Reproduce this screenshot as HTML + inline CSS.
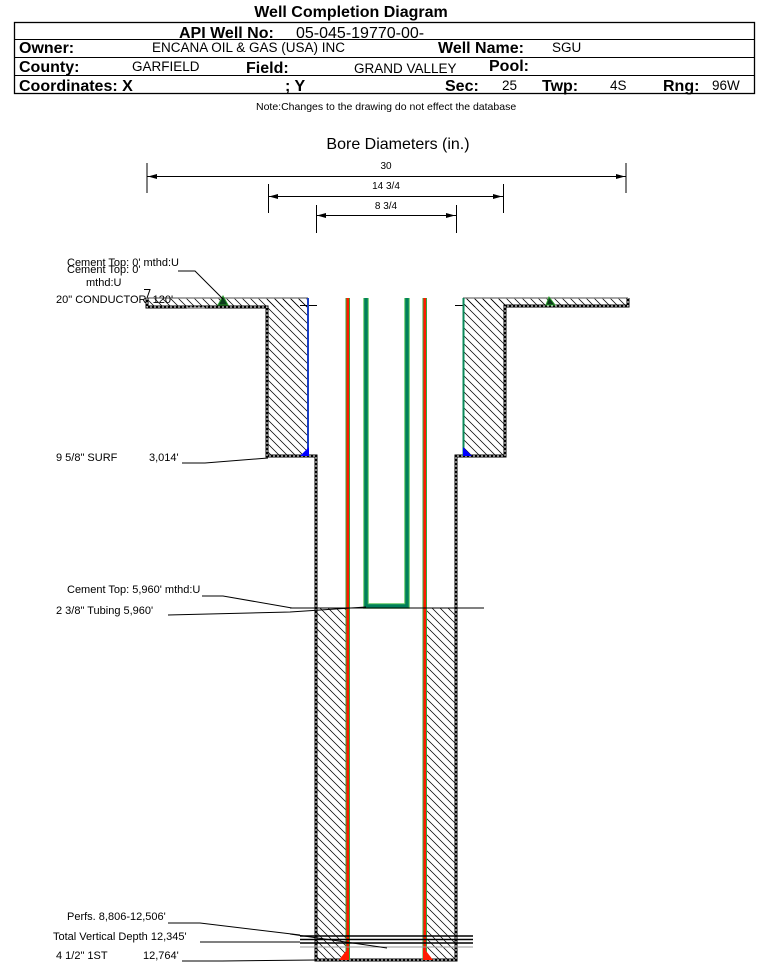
<!DOCTYPE html>
<html><head><meta charset="utf-8">
<style>
html,body{margin:0;padding:0;background:#fff;}
svg{display:block;}
text{font-family:"Liberation Sans",Arial,sans-serif;}
</style></head>
<body>
<svg width="759" height="963" viewBox="0 0 759 963" xmlns="http://www.w3.org/2000/svg">
<defs>
<pattern id="h" patternUnits="userSpaceOnUse" width="8" height="8">
<path d="M0,0 L8,8 M-1,7 L1,9 M7,-1 L9,1" stroke="#000" stroke-width="0.75"/>
</pattern>
</defs>

<!-- Header -->
<text x="351" y="17" font-size="16" font-weight="bold" text-anchor="middle">Well Completion Diagram</text>
<rect x="14.5" y="22.5" width="740" height="71" fill="none" stroke="#000" stroke-width="1.3"/>
<line x1="14" y1="39.5" x2="755" y2="39.5" stroke="#000" stroke-width="1"/>
<line x1="14" y1="57.5" x2="755" y2="57.5" stroke="#000" stroke-width="1"/>
<line x1="14" y1="75.5" x2="755" y2="75.5" stroke="#000" stroke-width="1"/>

<text x="179" y="38" font-size="16" font-weight="bold">API Well No:</text>
<text x="296" y="38" font-size="16">05-045-19770-00-</text>

<text x="19" y="53" font-size="16" font-weight="bold">Owner:</text>
<text x="152" y="52" font-size="13.5">ENCANA OIL &amp; GAS (USA) INC</text>
<text x="438" y="53" font-size="16" font-weight="bold">Well Name:</text>
<text x="552" y="52" font-size="13.5">SGU</text>

<text x="19" y="72" font-size="16" font-weight="bold">County:</text>
<text x="132" y="71" font-size="13.5">GARFIELD</text>
<text x="246" y="73" font-size="16" font-weight="bold">Field:</text>
<text x="354" y="73" font-size="13.5">GRAND VALLEY</text>
<text x="489" y="71" font-size="16" font-weight="bold">Pool:</text>

<text x="19" y="91" font-size="16" font-weight="bold">Coordinates: X</text>
<text x="285" y="91" font-size="16" font-weight="bold">; Y</text>
<text x="445" y="91" font-size="16" font-weight="bold">Sec:</text>
<text x="502" y="90" font-size="13.5">25</text>
<text x="542" y="91" font-size="16" font-weight="bold">Twp:</text>
<text x="610" y="90" font-size="13.5">4S</text>
<text x="663" y="91" font-size="16" font-weight="bold">Rng:</text>
<text x="712" y="90" font-size="13.5">96W</text>

<text x="256" y="110" font-size="10.5">Note:Changes to the drawing do not effect the database</text>

<!-- Bore diameters -->
<text x="398" y="149" font-size="16" text-anchor="middle">Bore Diameters (in.)</text>
<g stroke="#000" stroke-width="1">
<line x1="147" y1="163" x2="147" y2="193"/>
<line x1="626" y1="163" x2="626" y2="193"/>
<line x1="147" y1="176.5" x2="626" y2="176.5"/>
<line x1="268.5" y1="184" x2="268.5" y2="213"/>
<line x1="503.5" y1="184" x2="503.5" y2="213"/>
<line x1="268" y1="196.5" x2="503" y2="196.5"/>
<line x1="316.5" y1="205" x2="316.5" y2="233"/>
<line x1="456.5" y1="205" x2="456.5" y2="233"/>
<line x1="316" y1="215.5" x2="456" y2="215.5"/>
</g>
<g fill="#000">
<path d="M148,176.5 L157,174 L157,179 Z"/>
<path d="M625,176.5 L616,174 L616,179 Z"/>
<path d="M269,196.5 L278,194 L278,199 Z"/>
<path d="M502,196.5 L493,194 L493,199 Z"/>
<path d="M317,215.5 L326,213 L326,218 Z"/>
<path d="M455,215.5 L446,213 L446,218 Z"/>
</g>
<text x="386" y="169" font-size="10" text-anchor="middle">30</text>
<text x="386" y="189" font-size="10" text-anchor="middle">14 3/4</text>
<text x="386" y="209" font-size="10" text-anchor="middle">8 3/4</text>

<!-- Hatched cement areas -->
<g fill="url(#h)">
<rect x="147" y="298" width="161" height="9"/>
<rect x="267" y="298" width="41" height="158"/>
<rect x="463" y="298" width="165" height="9"/>
<rect x="463" y="298" width="42" height="158"/>
<rect x="316" y="608" width="31" height="352"/>
<rect x="425" y="608" width="31" height="352"/>
</g>
<!-- conductor top edges -->
<line x1="147" y1="298" x2="308" y2="298" stroke="#888" stroke-width="1.5"/>
<line x1="463" y1="298" x2="628" y2="298" stroke="#888" stroke-width="1.5"/>

<!-- Hole outline (dotted double) -->
<path d="M147,298 L147,307 L267,307 L267,456 L316,456 L316,960 L456,960 L456,456 L505,456 L505,306 L628,306 L628,298" fill="none" stroke="#000" stroke-width="3"/>
<path d="M147,298 L147,307 L267,307 L267,456 L316,456 L316,960 L456,960 L456,456 L505,456 L505,306 L628,306 L628,298" fill="none" stroke="#fff" stroke-width="1" stroke-dasharray="2 2"/>

<!-- small horizontal lines at conductor -->
<line x1="300" y1="305.5" x2="317" y2="305.5" stroke="#000" stroke-width="1"/>
<line x1="455" y1="305.5" x2="463" y2="305.5" stroke="#000" stroke-width="1"/>

<!-- Surface casing -->
<line x1="308" y1="298" x2="308" y2="456" stroke="#1a3fc4" stroke-width="2"/>
<line x1="463.5" y1="298" x2="463.5" y2="456" stroke="#0a8a5a" stroke-width="2"/>
<path d="M300,456 L309,456 L309,447 Z" fill="#0000ff"/>
<path d="M463,456 L472,456 L463,447 Z" fill="#0000ff"/>

<!-- Production casing -->
<rect x="345.5" y="298" width="4.5" height="662" fill="#3aa63a"/>
<rect x="346.5" y="298" width="2.5" height="662" fill="#ff1a00"/>
<rect x="422.5" y="298" width="4.5" height="662" fill="#3aa63a"/>
<rect x="423.5" y="298" width="2.5" height="662" fill="#ff1a00"/>
<path d="M339,960 L349,960 L349,947 Z" fill="#ff1a00"/>
<path d="M423,960 L433,960 L423,947 Z" fill="#ff1a00"/>

<!-- Tubing -->
<path d="M366,298 L366,606 L407,606 L407,298" fill="none" stroke="#5fc85f" stroke-width="5.5"/>
<path d="M366,298 L366,606 L407,606 L407,298" fill="none" stroke="#00805a" stroke-width="3.5"/>

<!-- Cement top line production -->
<line x1="290" y1="608" x2="484" y2="608" stroke="#000" stroke-width="1"/>

<!-- Perfs lines -->
<g stroke-width="1.6">
<line x1="300" y1="936" x2="473" y2="936" stroke="#000"/>
<line x1="300" y1="939.5" x2="473" y2="939.5" stroke="#000"/>
<line x1="300" y1="943" x2="473" y2="943" stroke="#000"/>
<line x1="300" y1="947" x2="473" y2="947" stroke="#999" stroke-width="1"/>
</g>

<!-- Cement top markers -->
<path d="M218,305 L228,305 L223,296 Z" fill="#0a3a1a" stroke="#2a9d2a" stroke-width="1"/>
<path d="M546,305 L555,305 L549,297 Z" fill="#0a3a1a" stroke="#2a9d2a" stroke-width="1"/>

<!-- Leaders -->
<g stroke="#000" stroke-width="1" fill="none">
<path d="M178,271 L195,271 L223,299"/>
<path d="M144,289.5 L150,289.5 L147,298"/>
<path d="M182,463 L205,463 L268,458"/>
<path d="M202,596 L223,596 L292,608"/>
<path d="M168,615 L290,612 L366,607"/>
<path d="M168,923 L200,923 L300,935"/>
<path d="M200,942 L300,942"/>
<path d="M290,934 L387,948"/>
<path d="M182,961 L222,961 L316,960"/>
</g>
<line x1="187" y1="308" x2="205" y2="308" stroke="#888" stroke-width="1.5"/>

<!-- Labels -->
<g font-size="11">
<text x="67" y="266">Cement Top: 0' mthd:U</text>
<text x="67" y="273">Cement Top: 0'</text>
<text x="86" y="286">mthd:U</text>
<text x="56" y="303">20" CONDUCTOR, 120'</text>
<text x="56" y="461">9 5/8" SURF</text>
<text x="149" y="461">3,014'</text>
<text x="67" y="593">Cement Top: 5,960' mthd:U</text>
<text x="56" y="614">2 3/8" Tubing 5,960'</text>
<text x="67" y="920">Perfs. 8,806-12,506'</text>
<text x="53" y="940">Total Vertical Depth 12,345'</text>
<text x="56" y="959">4 1/2" 1ST</text>
<text x="143" y="959">12,764'</text>
</g>
</svg>
</body></html>
